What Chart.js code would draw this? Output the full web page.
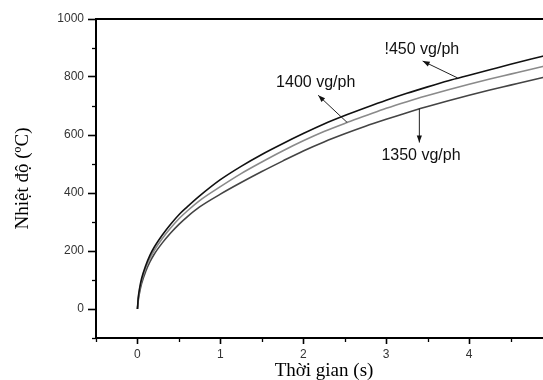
<!DOCTYPE html>
<html>
<head>
<meta charset="utf-8">
<script src="https://cdn.jsdelivr.net/npm/chart.js@4/dist/chart.umd.min.js"></script>
<style>
html,body{margin:0;padding:0;background:#fff;overflow:hidden;width:543px;height:380px;}
#wrap{width:553px;height:380px;}
</style>
</head>
<body>
<div id="wrap"><canvas id="c" width="553" height="380"></canvas></div>
<script>
// ---- data ----
const times    = [0, 0.01, 0.025, 0.05, 0.1, 0.15, 0.2, 0.3, 0.4, 0.5, 0.6, 0.75, 1, 1.25, 1.5, 1.75, 2, 2.25, 2.5, 2.75, 3, 3.25, 3.5, 3.75, 4, 4.25, 4.5, 4.75, 5];
const temp1450 = [0, 40, 70, 105, 150, 185, 212, 255, 292, 325, 352, 390, 446, 492, 533, 570, 605, 638, 667, 694, 720, 744, 766, 787, 806, 825, 844, 862, 880];
const temp1400 = [0, 36, 64, 98, 142, 175, 201, 243, 279, 311, 338, 374, 422, 467, 507, 545, 580, 612, 640, 666, 692, 715, 736, 756, 775, 793, 810, 827, 844];
const temp1350 = [0, 30, 56, 88, 130, 162, 188, 228, 262, 292, 318, 352, 396, 436, 474, 510, 545, 576, 604, 630, 654, 677, 698, 718, 737, 755, 772, 789, 805];
const seriesNames = ['1450 vg/ph', '1400 vg/ph', '1350 vg/ph'];
const yTickLabels = [0, 200, 400, 600, 800, 1000];
const xTickLabels = [0, 1, 2, 3, 4];
const noteTexts = ['!450 vg/ph', '1400 vg/ph', '1350 vg/ph'];

const toPts = arr => times.map((t, i) => ({x: t, y: arr[i]}));

const notes = [
  {text: noteTexts[0], at: [3.43, 893], from: [3.86, 797], to: [3.44, 855]},
  {text: noteTexts[1], at: [2.15, 782], from: [2.53, 643], to: [2.18, 737]},
  {text: noteTexts[2], at: [3.42, 529], from: [3.40, 692], to: [3.40, 574]}
];

const extras = {
  id: 'extras',
  afterDraw(chart) {
    const {ctx, chartArea: a, scales: {x, y}} = chart;
    ctx.save();
    ctx.strokeStyle = '#000';
    ctx.lineWidth = 2;
    ctx.beginPath();
    ctx.moveTo(a.left - 1, a.top);
    ctx.lineTo(a.right + 2, a.top);
    ctx.stroke();
    // minor ticks
    ctx.lineWidth = 1.3;
    for (let v = -100; v <= 1000; v += 200) {
      const py = Math.round(y.getPixelForValue(v)) + 0.5;
      ctx.beginPath(); ctx.moveTo(a.left - 4, py); ctx.lineTo(a.left, py); ctx.stroke();
    }
    for (let v = -0.5; v <= 5; v += 1) {
      const px = Math.round(x.getPixelForValue(v)) + 0.5;
      ctx.beginPath(); ctx.moveTo(px, a.bottom); ctx.lineTo(px, a.bottom + 4); ctx.stroke();
    }
    // annotations
    ctx.font = '16px "Liberation Sans", Arial, sans-serif';
    ctx.textAlign = 'center';
    ctx.textBaseline = 'middle';
    ctx.strokeStyle = '#222';
    ctx.lineWidth = 1;
    notes.forEach(n => {
      ctx.fillStyle = '#111';
      ctx.fillText(n.text, x.getPixelForValue(n.at[0]), y.getPixelForValue(n.at[1]));
      const x1 = x.getPixelForValue(n.from[0]), y1 = y.getPixelForValue(n.from[1]);
      const x2 = x.getPixelForValue(n.to[0]), y2 = y.getPixelForValue(n.to[1]);
      ctx.beginPath(); ctx.moveTo(x1, y1); ctx.lineTo(x2, y2); ctx.stroke();
      const ang = Math.atan2(y2 - y1, x2 - x1);
      const L = 7, W = 2.6;
      ctx.beginPath();
      ctx.moveTo(x2, y2);
      ctx.lineTo(x2 - L * Math.cos(ang) + W * Math.sin(ang), y2 - L * Math.sin(ang) - W * Math.cos(ang));
      ctx.lineTo(x2 - L * Math.cos(ang) - W * Math.sin(ang), y2 - L * Math.sin(ang) + W * Math.cos(ang));
      ctx.closePath();
      ctx.fill();
    });
    ctx.restore();
  }
};

new Chart(document.getElementById('c'), {
  type: 'line',
  data: {
    datasets: [
      {label: seriesNames[0], data: toPts(temp1450), borderColor: '#111', borderWidth: 1.6},
      {label: seriesNames[1], data: toPts(temp1400), borderColor: '#8a8a8a', borderWidth: 1.6},
      {label: seriesNames[2], data: toPts(temp1350), borderColor: '#444', borderWidth: 1.6}
    ]
  },
  options: {
    responsive: false,
    animation: false,
    devicePixelRatio: 1,
    layout: {padding: {top: 19, right: 1, left: 0, bottom: 0}},
    elements: {point: {radius: 0}, line: {cubicInterpolationMode: 'monotone', fill: false}},
    plugins: {legend: {display: false}, tooltip: {enabled: false}},
    scales: {
      x: {
        type: 'linear', min: -0.5, max: 5,
        afterFit: s => { s.height = 42; },
        afterBuildTicks: s => { s.ticks = xTickLabels.map(v => ({value: v})); },
        ticks: {color: '#333', font: {family: '"Liberation Sans", Arial, sans-serif', size: 12}, padding: 3, maxRotation: 0,
          callback: v => String(v)},
        grid: {drawOnChartArea: false, drawTicks: true, tickLength: 6, tickColor: '#000', tickWidth: 1.6},
        border: {display: true, color: '#000', width: 2},
        title: {display: true, text: 'Thời gian (s)', color: '#000',
          font: {family: '"Liberation Serif", "Times New Roman", serif', size: 19, lineHeight: 1}, padding: {top: 0, bottom: -1}}
      },
      y: {
        type: 'linear', min: -100, max: 1000,
        afterFit: s => { s.width = 96; },
        afterBuildTicks: s => { s.ticks = yTickLabels.map(v => ({value: v})); },
        ticks: {color: '#333', font: {family: '"Liberation Sans", Arial, sans-serif', size: 12}, padding: 4,
          callback: v => String(v)},
        grid: {drawOnChartArea: false, drawTicks: true, tickLength: 8, tickColor: '#000', tickWidth: 1.6},
        border: {display: true, color: '#000', width: 2},
        title: {display: true, text: 'Nhiệt độ (ºC)', color: '#000',
          font: {family: '"Liberation Serif", "Times New Roman", serif', size: 19, lineHeight: 1}, padding: {top: 14, bottom: 0}}
      }
    }
  },
  plugins: [extras]
});
</script>
</body>
</html>
